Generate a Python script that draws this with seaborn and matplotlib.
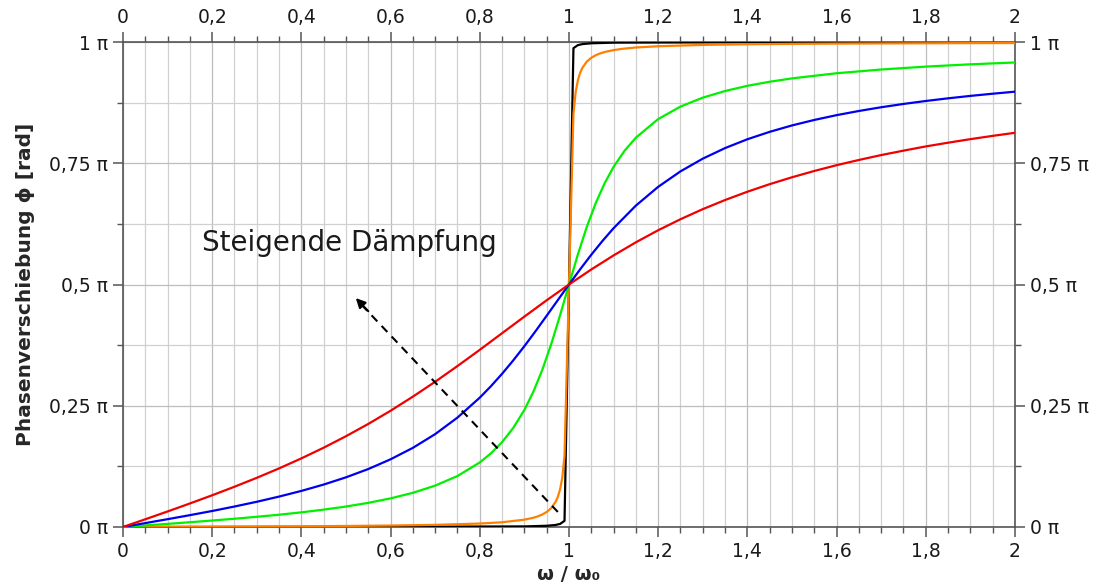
import numpy as np
import pandas as pd
import matplotlib
matplotlib.use("Agg")
import matplotlib.pyplot as plt
from matplotlib.ticker import MultipleLocator, FixedLocator, FixedFormatter
import seaborn as sns

# phase shift in units of pi
x_black = [0, 0.5, 0.9, 0.95, 0.97, 0.98, 0.99, 1.0, 1.01, 1.02, 1.03, 1.05, 1.1, 1.5, 2.0]
phi_black = [0, 0.0002, 0.0012, 0.0025, 0.0042, 0.0063, 0.0127, 0.5,
             0.9873, 0.9936, 0.9957, 0.9974, 0.9987, 0.9997, 0.9998]

x_orange = [0, 0.1, 0.2, 0.3, 0.4, 0.5, 0.6, 0.7, 0.8, 0.85, 0.9, 0.92, 0.93, 0.94,
            0.95, 0.96, 0.97, 0.975, 0.98, 0.985, 0.99, 1.0, 1.01, 1.015, 1.02,
            1.025, 1.03, 1.04, 1.05, 1.06, 1.07, 1.08, 1.1, 1.12, 1.15,
            1.2, 1.3, 1.4, 1.5, 1.6, 1.7, 1.8, 1.9, 2.0]
phi_orange = [0, 0.0003, 0.0007, 0.0011, 0.0015, 0.0021, 0.0030, 0.0044, 0.0071,
              0.0097, 0.0151, 0.0190, 0.0219, 0.0257, 0.0309, 0.0388, 0.0518,
              0.0621, 0.0772, 0.1017, 0.1469, 0.5, 0.8518, 0.8969, 0.9213,
              0.9364, 0.9467, 0.9596, 0.9675, 0.9728, 0.9765, 0.9794, 0.9833,
              0.9860, 0.9887, 0.9913, 0.9940, 0.9954, 0.9962, 0.9967, 0.9971,
              0.9974, 0.9977, 0.9979]

x_green = [0, 0.05, 0.1, 0.15, 0.2, 0.25, 0.3, 0.35, 0.4, 0.45, 0.5, 0.55, 0.6,
           0.65, 0.7, 0.75, 0.8, 0.825, 0.85, 0.875, 0.9, 0.92, 0.94, 0.96, 0.98,
           1.0, 1.02, 1.04, 1.06, 1.08, 1.1, 1.125, 1.15, 1.2, 1.25, 1.3, 1.35,
           1.4, 1.45, 1.5, 1.6, 1.7, 1.8, 1.9, 2.0]
phi_green = [0, 0.0032, 0.0064, 0.0098, 0.0133, 0.0170, 0.0210, 0.0253, 0.0302,
             0.0358, 0.0422, 0.0498, 0.0590, 0.0705, 0.0853, 0.1051, 0.1331,
             0.1518, 0.1750, 0.2042, 0.2414, 0.2786, 0.3236, 0.3766, 0.4365,
             0.5, 0.5622, 0.6190, 0.6680, 0.7089, 0.7426, 0.7763, 0.8028,
             0.8411, 0.8669, 0.8853, 0.8990, 0.9097, 0.9181, 0.9250, 0.9356,
             0.9433, 0.9493, 0.9540, 0.9578]

x_blue = [0, 0.05, 0.1, 0.15, 0.2, 0.25, 0.3, 0.35, 0.4, 0.45, 0.5, 0.55, 0.6,
          0.65, 0.7, 0.75, 0.8, 0.825, 0.85, 0.875, 0.9, 0.925, 0.95, 0.975, 1.0,
          1.025, 1.05, 1.075, 1.1, 1.15, 1.2, 1.25, 1.3, 1.35, 1.4, 1.45, 1.5,
          1.55, 1.6, 1.65, 1.7, 1.75, 1.8, 1.85, 1.9, 1.95, 2.0]
phi_blue = [0, 0.0080, 0.0161, 0.0244, 0.0330, 0.0422, 0.0520, 0.0627, 0.0744,
            0.0875, 0.1024, 0.1195, 0.1396, 0.1632, 0.1915, 0.2256, 0.2667,
            0.2903, 0.3159, 0.3435, 0.3728, 0.4037, 0.4356, 0.4679, 0.5,
            0.5313, 0.5614, 0.5897, 0.6161, 0.6627, 0.7014, 0.7333, 0.7595,
            0.7813, 0.7995, 0.8148, 0.8280, 0.8393, 0.8492, 0.8578, 0.8655,
            0.8723, 0.8784, 0.8839, 0.8889, 0.8934, 0.8976]

x_red = [0, 0.05, 0.1, 0.15, 0.2, 0.25, 0.3, 0.35, 0.4, 0.45, 0.5, 0.55, 0.6,
         0.65, 0.7, 0.75, 0.8, 0.85, 0.9, 0.95, 1.0, 1.05, 1.1, 1.15, 1.2, 1.25,
         1.3, 1.35, 1.4, 1.45, 1.5, 1.55, 1.6, 1.65, 1.7, 1.75, 1.8, 1.85, 1.9,
         1.95, 2.0]
phi_red = [0, 0.0159, 0.0320, 0.0485, 0.0654, 0.0830, 0.1014, 0.1208, 0.1415,
           0.1635, 0.1872, 0.2125, 0.2397, 0.2688, 0.2995, 0.3319, 0.3653,
           0.3996, 0.4338, 0.4675, 0.5, 0.5310, 0.5600, 0.5870, 0.6119, 0.6346,
           0.6554, 0.6742, 0.6913, 0.7069, 0.7211, 0.7341, 0.7460, 0.7568,
           0.7669, 0.7760, 0.7847, 0.7924, 0.7997, 0.8065, 0.8128]

series = ["black", "orange", "green", "blue", "red"]
colors = ["#000000", "#ff8000", "#00f000", "#0000f0", "#f00000"]

x_ticks = [0, 0.2, 0.4, 0.6, 0.8, 1.0, 1.2, 1.4, 1.6, 1.8, 2.0]
x_labels = ["0", "0,2", "0,4", "0,6", "0,8", "1", "1,2", "1,4", "1,6", "1,8", "2"]
y_ticks = [0, 0.25, 0.5, 0.75, 1.0]
y_labels = ["0 π", "0,25 π", "0,5 π", "0,75 π", "1 π"]

df = pd.concat([
    pd.DataFrame({"x": x_black, "phi": phi_black, "curve": "black"}),
    pd.DataFrame({"x": x_orange, "phi": phi_orange, "curve": "orange"}),
    pd.DataFrame({"x": x_green, "phi": phi_green, "curve": "green"}),
    pd.DataFrame({"x": x_blue, "phi": phi_blue, "curve": "blue"}),
    pd.DataFrame({"x": x_red, "phi": phi_red, "curve": "red"}),
], ignore_index=True)

sns.set_theme(style="ticks")
plt.rcParams["font.family"] = ["DejaVu Sans"]

fig = plt.figure(figsize=(10.98, 5.86), dpi=100)
ax = fig.add_axes([0.112, 0.1007, 0.8124, 0.8276])

sns.lineplot(data=df, x="x", y="phi", hue="curve", hue_order=series,
             palette=colors, estimator=None, sort=True, linewidth=1.6,
             legend=False, ax=ax, zorder=3)

ax.set_xlim(0, 2)
ax.set_ylim(0, 1)
ax.xaxis.set_major_locator(FixedLocator(x_ticks))
ax.xaxis.set_major_formatter(FixedFormatter(x_labels))
ax.xaxis.set_minor_locator(MultipleLocator(0.05))
ax.yaxis.set_major_locator(FixedLocator(y_ticks))
ax.yaxis.set_major_formatter(FixedFormatter(y_labels))
ax.yaxis.set_minor_locator(MultipleLocator(0.125))

ax.grid(True, which="major", color="#bdbdbd", linewidth=0.9, zorder=0)
ax.grid(True, which="minor", color="#d0d0d0", linewidth=0.9, zorder=0)
ax.tick_params(which="both", direction="out", top=True, right=True,
               labeltop=True, labelright=True, labelsize=13.5, color="#555555",
               labelcolor="#1a1a1a")
ax.tick_params(which="major", length=7, width=1.1, pad=4)
ax.tick_params(which="minor", length=4.5, width=1.0)
for side in ["left", "right", "top", "bottom"]:
    ax.spines[side].set_visible(True)
    ax.spines[side].set_color("#555555")
    ax.spines[side].set_linewidth(1.2)

ax.set_xlabel("ω / ω₀", fontsize=14, fontweight="bold", labelpad=3)
ax.set_ylabel("Phasenverschiebung ϕ [rad]", fontsize=14.5, fontweight="bold", labelpad=10)

# arrow for increasing damping
ax.plot([0.975, 0.53], [0.031, 0.463], color="black", linestyle=(0, (4, 3)),
        linewidth=1.5, zorder=4)
ax.annotate("", xy=(0.522, 0.472), xytext=(0.55, 0.445),
            arrowprops=dict(arrowstyle="-|>", color="black", lw=1.5,
                            mutation_scale=14, shrinkA=0, shrinkB=0), zorder=4)
ax.text(0.177, 0.586, "Steigende Dämpfung", fontsize=20, va="center", ha="left",
        color="#1a1a1a", zorder=5)

fig.savefig("out.png", dpi=100)
